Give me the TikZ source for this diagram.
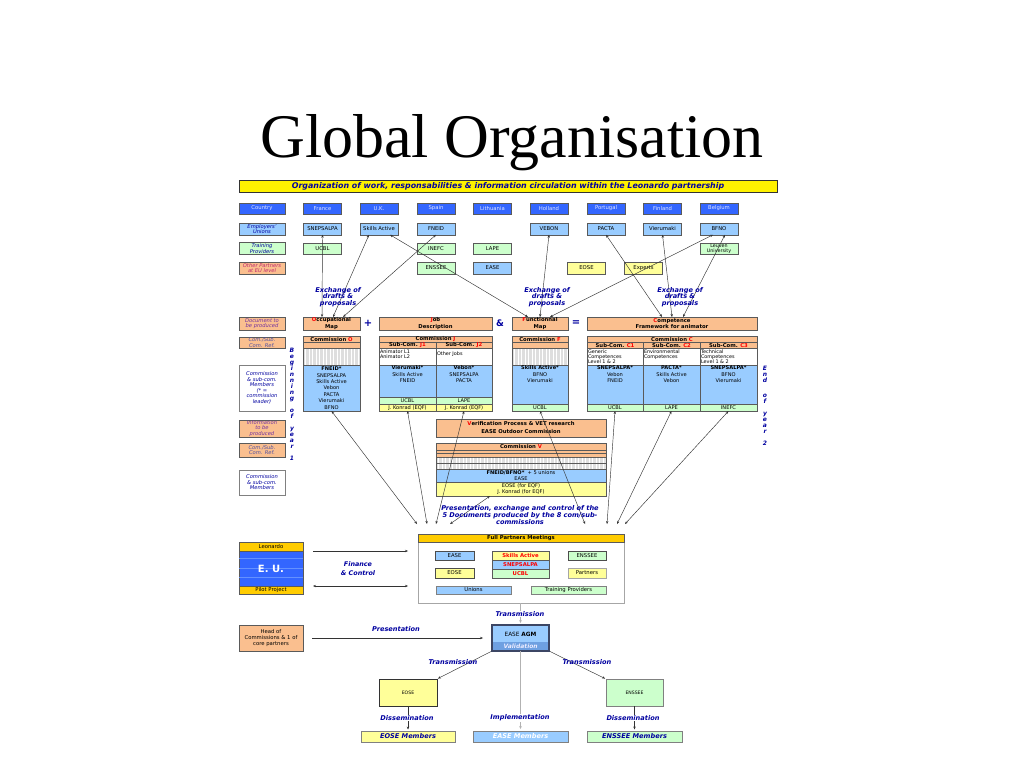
\documentclass[tikz,border=0pt]{standalone}
\usepackage{fontspec}
\setmainfont{DejaVu Sans}
\newfontfamily\titlefont{Liberation Serif}
\usetikzlibrary{arrows.meta}
\definecolor{cblue}{RGB}{51,102,255}
\definecolor{lblue}{RGB}{153,204,255}
\definecolor{lgreen}{RGB}{204,255,204}
\definecolor{lyellow}{RGB}{255,255,153}
\definecolor{lorange}{RGB}{250,191,143}
\definecolor{gold}{RGB}{255,204,0}
\definecolor{navy}{RGB}{0,0,160}
\definecolor{rred}{RGB}{255,0,0}
\definecolor{edge}{RGB}{90,90,90}
\definecolor{labpur}{RGB}{112,48,160}
\definecolor{labpink}{RGB}{190,40,110}
\definecolor{labgb}{RGB}{80,80,160}
\definecolor{ctext}{RGB}{225,230,255}
\definecolor{vblue}{RGB}{110,160,225}
\definecolor{agmedge}{RGB}{60,70,100}
\definecolor{eulines}{RGB}{100,145,255}
\newcommand\fsRow{\fontsize{5.3}{5.8}\selectfont}
\newcommand\fsLab{\fontsize{5.2}{5.5}\selectfont\itshape}
\newcommand\fsTab{\fontsize{5.1}{6.4}\selectfont}
\newcommand\fsWhite{\fontsize{4.9}{5.4}\selectfont}
\newcommand\fsHead{\fontsize{5.3}{6.2}\selectfont\bfseries}
\newcommand\fsNote{\fontsize{6.6}{6.6}\selectfont\bfseries\itshape}
\begin{document}
\begin{tikzpicture}[x=1pt,y=-1pt,
  cell/.style={draw=edge, line width=0.4pt, inner sep=0pt, outer sep=0pt, align=center},
  rowbox/.style={cell, minimum width=38pt, minimum height=11.5pt, font=\fsRow},
  labbox/.style={cell, minimum width=46pt, minimum height=12pt, font=\fsLab, text=navy},
  blk/.style={cell, anchor=north west, font=\fsTab},
  txt/.style={inner sep=0pt, outer sep=0pt, font=\fsTab, align=center},
  wtxt/.style={inner sep=0pt, outer sep=0pt, font=\fsWhite, align=left, anchor=north west},
  note/.style={font=\fsNote, text=navy, align=center, inner sep=0.5pt},
  link/.style={draw=black!80, line width=0.45pt, {Stealth[length=3pt,width=2.4pt]}-{Stealth[length=3pt,width=2.4pt]}},
  link1/.style={draw=black!80, line width=0.45pt, -{Stealth[length=3pt,width=2.4pt]}},
  glink/.style={draw=gray!60, line width=0.9pt, -{Stealth[length=3pt,width=2.6pt]}, shorten >=2pt}
]
\useasboundingbox (0,0) rectangle (1024,768);
\fill[white] (0,0) rectangle (1024,768);

% title
\node[font=\titlefont\fontsize{62}{70}\selectfont, anchor=base, inner sep=0] (title) at (512,157) {Global Organisation};

% header bar
\node[cell, draw=black!80, fill=yellow, minimum width=538pt, minimum height=12pt,
  font=\fontsize{7.9}{8}\selectfont\bfseries\itshape, text=navy] (hdr) at (508,186)
  {Organization of work, responsabilities \& information circulation within the Leonardo partnership};

% row 1: countries
\node[rowbox, fill=cblue, text=ctext, minimum width=46pt] (rcountry) at (262,208.5) {Country};
\node[rowbox, fill=cblue, text=ctext] (fr) at (322.5,208.5) {France};
\node[rowbox, fill=cblue, text=ctext] (uk) at (379,208.5) {U.K.};
\node[rowbox, fill=cblue, text=ctext] (es) at (436,208.5) {Spain};
\node[rowbox, fill=cblue, text=ctext] (lt) at (492.5,208.5) {Lithuania};
\node[rowbox, fill=cblue, text=ctext] (nl) at (549,208.5) {Holland};
\node[rowbox, fill=cblue, text=ctext] (pt) at (606,208.5) {Portugal};
\node[rowbox, fill=cblue, text=ctext] (fi) at (662.5,208.5) {Finland};
\node[rowbox, fill=cblue, text=ctext] (be) at (719,208.5) {Belgium};

% row 2: employers' unions
\node[labbox, fill=lblue] (lemp) at (262,229) {Employers'\\Unions};
\node[rowbox, fill=lblue] (snep) at (322.5,229) {SNEPSALPA};
\node[rowbox, fill=lblue] (skills) at (379,229) {Skills Active};
\node[rowbox, fill=lblue] (fneid) at (436,229) {FNEID};
\node[rowbox, fill=lblue] (vebon) at (549,229) {VEBON};
\node[rowbox, fill=lblue] (pacta) at (606,229) {PACTA};
\node[rowbox, fill=lblue] (vier) at (662.5,229) {Vierumaki};
\node[rowbox, fill=lblue] (bfno) at (719,229) {BFNO};

% row 3: training providers
\node[labbox, fill=lgreen] (ltrain) at (262,248.5) {Training\\Providers};
\node[rowbox, fill=lgreen] (ucbl) at (322.5,248.5) {UCBL};
\node[rowbox, fill=lgreen] (inefc) at (436,248.5) {INEFC};
\node[rowbox, fill=lgreen] (lape) at (492.5,248.5) {LAPE};
\node[rowbox, fill=lgreen, font=\fontsize{4.8}{5}\selectfont] (leuven) at (719,248.5) {Leuven\\University};

% row 4: other partners
\node[labbox, fill=lorange, text=labpink] (lother) at (262,268) {Other Partners\\at EU level};
\node[rowbox, fill=lgreen] (enssee) at (436,268) {ENSSEE};
\node[rowbox, fill=lblue] (ease) at (492.5,268) {EASE};
\node[rowbox, fill=lyellow] (eose) at (586.5,268) {EOSE};
\node[rowbox, fill=lyellow] (experts) at (643.5,268) {Experts};

% document row
\node[labbox, fill=lorange, text=labpur, minimum height=13pt] (ldoc) at (262,323.5) {Document to\\be produced};
\node[cell, fill=lorange, minimum width=57pt, minimum height=13pt, font=\fsHead] (occ) at (331.5,323.5) {\textcolor{rred}{O}ccupational\\Map};
\node[inner sep=0, font=\fontsize{10}{10}\selectfont\bfseries, text=navy] (plus) at (368,323.5) {+};
\node[cell, fill=lorange, minimum width=113pt, minimum height=13pt, font=\fsHead] (job) at (435.5,323.5) {\textcolor{rred}{J}ob\\Description};
\node[inner sep=0, font=\fontsize{9}{9}\selectfont\bfseries, text=navy] (amp) at (500,323.5) {\&};
\node[cell, fill=lorange, minimum width=56pt, minimum height=13pt, font=\fsHead] (fun) at (540,323.5) {\textcolor{rred}{F}unctionnal\\Map};
\node[inner sep=0, font=\fontsize{10}{10}\selectfont\bfseries, text=navy] (eq) at (576,323.5) {=};
\node[cell, fill=lorange, minimum width=170pt, minimum height=13pt, font=\fsHead] (comp) at (672,323.5) {\textcolor{rred}{C}ompetence\\Framework for animator};

% left labels (commission area)
\node[labbox, fill=lorange, text=labgb, minimum height=11pt] (lref) at (262,342.5) {Com./Sub.\\Com. Ref.};
\node[labbox, fill=white, draw=gray, minimum height=46pt] (lmem) at (262,388) {Commission\\\& sub-com.\\Members\\(* =\\commission\\leader)};
\node[labbox, fill=lorange, text=labpur, minimum height=17pt] (linfo) at (262,428.5) {Information\\to be\\produced};
\node[labbox, fill=lorange, text=labgb, minimum height=14pt] (lref2) at (262,450) {Com./Sub.\\Com. Ref.};
\node[labbox, fill=white, draw=gray, minimum height=25pt] (lmem2) at (262,482.5) {Commission\\\& sub-com.\\Members};

% vertical texts
\node[inner sep=0, font=\fontsize{6}{6}\selectfont\bfseries\itshape, text=navy, align=center, anchor=north] (begy) at (292,347.8)
  {B\\e\\g\\i\\n\\n\\i\\n\\g\\[6pt]o\\f\\[6pt]y\\e\\a\\r\\[6pt]1};
\node[inner sep=0, font=\fontsize{6}{6}\selectfont\bfseries\itshape, text=navy, align=center, anchor=north] (endy) at (765,365.8)
  {E\\n\\d\\[9pt]o\\f\\[6pt]y\\e\\a\\r\\[6pt]2};

% ---- Table O
\node[blk, fill=lorange, minimum width=57pt, minimum height=6.5pt, font=\fsHead] (oh) at (303,336) {Commission \textcolor{rred}{O}};
\node[blk, fill=lorange, minimum width=57pt, minimum height=6pt] (o2) at (303,342.5) {};
\node[blk, fill=black!13, minimum width=57pt, minimum height=16.5pt] (o3) at (303,348.5) {};
\foreach \x in {305.5,309,...,358} \draw[white, line width=1pt] (\x,349) -- (\x,364.5);
\node[blk, fill=lblue, minimum width=57pt, minimum height=46pt] (obot) at (303,365) {\textbf{FNEID*}\\SNEPSALPA\\Skills Active\\Vebon\\PACTA\\Vierumaki\\BFNO};

% ---- Table J
\node[blk, fill=lorange, minimum width=113pt, minimum height=6.5pt, font=\fsHead] (jh) at (379,336) {Commission \textcolor{rred}{J}};
\node[blk, fill=lorange, minimum width=57pt, minimum height=6pt, font=\fsHead] (j1s) at (379,342.5) {Sub-Com. \textcolor{rred}{J1}};
\node[blk, fill=lorange, minimum width=56pt, minimum height=6pt, font=\fsHead] (j2s) at (436,342.5) {Sub-Com. \textcolor{rred}{J2}};
\node[blk, fill=white, minimum width=57pt, minimum height=16.5pt] (j1w) at (379,348.5) {};
\node[blk, fill=white, minimum width=56pt, minimum height=16.5pt] (j2w) at (436,348.5) {};
\node[wtxt] (j1wt) at (380,349.3) {Animator L1\\Animator L2};
\node[wtxt] (j2wt) at (437,352) {Other Jobs};
\node[blk, fill=lblue, minimum width=57pt, minimum height=32.5pt] (j1b) at (379,365) {};
\node[blk, fill=lblue, minimum width=56pt, minimum height=32.5pt] (j2b) at (436,365) {};
\node[txt, anchor=north] (j1bt) at (407.5,365.9) {\textbf{Vierumaki*}\\Skills Active\\FNEID};
\node[txt, anchor=north] (j2bt) at (464,365.9) {\textbf{Vebon*}\\SNEPSALPA\\PACTA};
\node[blk, fill=lgreen, minimum width=57pt, minimum height=6.7pt] (j1g) at (379,397.5) {UCBL};
\node[blk, fill=lgreen, minimum width=56pt, minimum height=6.7pt] (j2g) at (436,397.5) {LAPE};
\node[blk, fill=lyellow, minimum width=57pt, minimum height=6.8pt] (j1y) at (379,404.2) {J. Konrad (EQF)};
\node[blk, fill=lyellow, minimum width=56pt, minimum height=6.8pt] (j2y) at (436,404.2) {J. Konrad (EQF)};

% ---- Table F
\node[blk, fill=lorange, minimum width=56pt, minimum height=6.5pt, font=\fsHead] (fh) at (512,336) {Commission \textcolor{rred}{F}};
\node[blk, fill=lorange, minimum width=56pt, minimum height=6pt] (f2) at (512,342.5) {};
\node[blk, fill=black!13, minimum width=56pt, minimum height=16.5pt] (f3) at (512,348.5) {};
\foreach \x in {514.5,518,...,567} \draw[white, line width=1pt] (\x,349) -- (\x,364.5);
\node[blk, fill=lblue, minimum width=56pt, minimum height=39.2pt] (fb) at (512,365) {};
\node[txt, anchor=north] (fbt) at (540,365.9) {\textbf{Skills Active*}\\BFNO\\Vierumaki};
\node[blk, fill=lgreen, minimum width=56pt, minimum height=6.8pt] (fg) at (512,404.2) {UCBL};

% ---- Table C
\node[blk, fill=lorange, minimum width=170pt, minimum height=6.5pt, font=\fsHead] (ch) at (587,336) {Commission \textcolor{rred}{C}};
\node[blk, fill=lorange, minimum width=56pt, minimum height=6pt, font=\fsHead] (c1s) at (587,342.5) {Sub-Com. \textcolor{rred}{C1}};
\node[blk, fill=lorange, minimum width=57pt, minimum height=6pt, font=\fsHead] (c2s) at (643,342.5) {Sub-Com. \textcolor{rred}{C2}};
\node[blk, fill=lorange, minimum width=57pt, minimum height=6pt, font=\fsHead] (c3s) at (700,342.5) {Sub-Com. \textcolor{rred}{C3}};
\node[blk, fill=white, minimum width=56pt, minimum height=16.5pt] (c1w) at (587,348.5) {};
\node[blk, fill=white, minimum width=57pt, minimum height=16.5pt] (c2w) at (643,348.5) {};
\node[blk, fill=white, minimum width=57pt, minimum height=16.5pt] (c3w) at (700,348.5) {};
\node[wtxt] (c1wt) at (588,349.3) {Generic\\Competences\\Level 1 \& 2};
\node[wtxt] (c2wt) at (644,349.3) {Environmental\\Competences};
\node[wtxt] (c3wt) at (701,349.3) {Technical\\Competences\\Level 1 \& 2};
\node[blk, fill=lblue, minimum width=56pt, minimum height=39.2pt] (c1b) at (587,365) {};
\node[blk, fill=lblue, minimum width=57pt, minimum height=39.2pt] (c2b) at (643,365) {};
\node[blk, fill=lblue, minimum width=57pt, minimum height=39.2pt] (c3b) at (700,365) {};
\node[txt, anchor=north] (c1bt) at (615,365.9) {\textbf{SNEPSALPA*}\\Vebon\\FNEID};
\node[txt, anchor=north] (c2bt) at (671.5,365.9) {\textbf{PACTA*}\\Skills Active\\Vebon};
\node[txt, anchor=north] (c3bt) at (728.5,365.9) {\textbf{SNEPSALPA*}\\BFNO\\Vierumaki};
\node[blk, fill=lgreen, minimum width=56pt, minimum height=6.8pt] (c1g) at (587,404.2) {UCBL};
\node[blk, fill=lgreen, minimum width=57pt, minimum height=6.8pt] (c2g) at (643,404.2) {LAPE};
\node[blk, fill=lgreen, minimum width=57pt, minimum height=6.8pt] (c3g) at (700,404.2) {INEFC};

% ---- Verification + Commission V
\node[blk, fill=lorange, minimum width=170pt, minimum height=18pt, font=\fsHead] (ver) at (436,419)
  {\textcolor{rred}{V}erification Process \& VET research\\[1.8pt]EASE Outdoor Commission};
\node[blk, fill=lorange, minimum width=170pt, minimum height=7pt, font=\fsHead] (vh) at (436,443) {Commission \textcolor{rred}{V}};
\node[blk, fill=lorange, minimum width=170pt, minimum height=7pt] (v2) at (436,450) {};
\draw[edge, line width=0.3pt] (436,453.5) -- (606,453.5);
\node[blk, fill=black!12, minimum width=170pt, minimum height=12pt] (v3) at (436,457) {};
\foreach \x in {438.5,442,...,605} \draw[white, line width=1pt] (\x,457.5) -- (\x,468.5);
\draw[edge, line width=0.3pt] (436,463) -- (606,463);
\node[blk, fill=lblue, minimum width=170pt, minimum height=13.5pt, font=\fontsize{5.1}{6.6}\selectfont] (vb) at (436,469) {\textbf{FNEID/BFNO*}~ + 5 unions\\EASE};
\node[blk, fill=lyellow, minimum width=170pt, minimum height=13.5pt, font=\fontsize{5.1}{6.6}\selectfont] (vy) at (436,482.5) {EOSE (for EQF)\\J. Konrad (for EQF)};

% ---- Full partners meetings
\node[cell, draw=gray!70, fill=white, minimum width=206pt, minimum height=69pt, anchor=north west, line width=0.7pt] (fpm) at (418,534) {};
\node[blk, fill=gold, minimum width=206pt, minimum height=8pt, font=\fsHead] (fph) at (418,534) {Full Partners Meetings};
\node[blk, fill=lblue, draw=black!70, line width=0.9pt, minimum width=39pt, minimum height=9pt, font=\fsRow] (fease) at (435,551) {EASE};
\node[blk, fill=lyellow, minimum width=57pt, minimum height=9pt, font=\fsHead, text=rred] (fsk) at (492,551) {Skills Active};
\node[blk, fill=lblue, minimum width=57pt, minimum height=9pt, font=\fsHead, text=rred] (fsn) at (492,560) {SNEPSALPA};
\node[blk, fill=lgreen, minimum width=57pt, minimum height=9pt, font=\fsHead, text=rred] (fuc) at (492,569) {UCBL};
\node[blk, fill=lgreen, draw=black!70, line width=0.9pt, minimum width=38pt, minimum height=9pt, font=\fsRow] (fens) at (568,551) {ENSSEE};
\node[blk, fill=lyellow, draw=black!70, line width=0.9pt, minimum width=39pt, minimum height=10pt, font=\fsRow] (feo) at (435,568) {EOSE};
\node[blk, fill=lyellow, draw=gray!70, minimum width=38pt, minimum height=10pt, font=\fsRow] (fpa) at (568,568) {Partners};
\node[blk, fill=lblue, draw=gray, minimum width=75pt, minimum height=8pt, font=\fsRow] (funi) at (436,586) {Unions};
\node[blk, fill=lgreen, draw=gray, minimum width=75pt, minimum height=8pt, font=\fsRow] (ftp) at (531,586) {Training Providers};

% ---- EU block
\node[blk, fill=gold, minimum width=64pt, minimum height=9pt, font=\fsRow] (leo) at (239,542) {Leonardo};
\node[blk, fill=cblue, minimum width=64pt, minimum height=35pt] (eu) at (239,551) {};
\foreach \yy in {558,568,577} \draw[eulines, line width=0.5pt] (239.3,\yy) -- (302.7,\yy);
\node[inner sep=0, font=\fontsize{10}{10}\selectfont\bfseries, text=white] (eut) at (271,568.5) {E. U.};
\node[blk, fill=gold, minimum width=64pt, minimum height=8pt, font=\fsRow] (pilot) at (239,586) {Pilot Project};

% ---- bottom part
\node[blk, fill=lorange, minimum width=64pt, minimum height=26pt, font=\fsRow] (head) at (239,625) {Head of\\Commissions \& 1 of\\core partners};
\node[blk, fill=lblue, draw=agmedge, line width=1.2pt, minimum width=57pt, minimum height=26pt] (agm) at (492,625) {};
\node[anchor=north west, fill=vblue, minimum width=55.8pt, minimum height=9pt, inner sep=0, font=\fontsize{6}{6}\selectfont\bfseries\itshape, text=white!92!blue] (agmv) at (492.6,641.5) {Validation};
\node[inner sep=0, font=\fontsize{5.8}{6}\selectfont] (agmt) at (520.5,634) {EASE \textbf{AGM}};
\draw[agmedge, line width=1.2pt] (agm.north west) rectangle (agm.south east);
\node[blk, fill=lyellow, draw=black!80, line width=0.8pt, minimum width=58pt, minimum height=27pt, font=\fontsize{4.6}{5}\selectfont] (eoseb) at (379,679) {EOSE};
\node[blk, fill=lgreen, draw=gray, line width=0.8pt, minimum width=57pt, minimum height=27pt, font=\fontsize{4.6}{5}\selectfont] (ensb) at (606,679) {ENSSEE};
\node[blk, fill=lyellow, draw=gray, minimum width=94pt, minimum height=11pt, font=\fsNote, text=navy] (eosem) at (361,731) {EOSE Members};
\node[blk, fill=lblue, draw=gray, minimum width=95pt, minimum height=11pt, font=\fsNote, text=white] (easem) at (473,731) {EASE Members};
\node[blk, fill=lgreen, draw=gray, minimum width=95pt, minimum height=11pt, font=\fsNote, text=navy] (ensm) at (587,731) {ENSSEE Members};

% ---- connectors top
\draw[link] (snep.south) -- ([xshift=-9.5pt]occ.north);
\draw[link] ([xshift=-10pt]skills.south) -- ([xshift=1.5pt]occ.north);
\draw[link] (fneid.south) -- ([xshift=11.5pt]occ.north);
\draw[link] ([xshift=11pt]skills.south) -- ([xshift=-12pt]fun.north);
\draw[link] (vebon.south) -- (fun.north);
\draw[link] ([xshift=-6pt]bfno.south) -- ([xshift=10pt]fun.north);
\draw[link] (pacta.south) -- ([xshift=-10pt]comp.north);
\draw[link] (vier.south) -- (comp.north);
\draw[link] ([xshift=6pt]bfno.south) -- ([xshift=11pt]comp.north);

% ---- connectors tables -> meetings
\coordinate (q1) at (417,524);
\coordinate (q2) at (427,524);
\coordinate (q3) at (436,524);
\coordinate (q4) at (450,524);
\coordinate (q5) at (585,524);
\coordinate (q6) at (607,524);
\coordinate (q7) at (617,524);
\coordinate (q8) at (625,524);
\draw[link] (obot.south) -- (q1);
\draw[link] (j1y.south) -- (q2);
\draw[link] (j2y.south) -- (q3);
\draw[link] ([xshift=-31pt]vy.south) -- (q4);
\draw[link] (fg.south) -- (q5);
\draw[link] (c1g.south) -- (q6);
\draw[link] (c2g.south) -- (q7);
\draw[link] (c3g.south) -- (q8);

% ---- EU arrows
\draw[link1, shorten <=10pt, shorten >=10pt] (eu.north east) -- (eu.north east -| fpm.west);
\draw[link, shorten <=10pt, shorten >=10pt] (eu.south east) -- (eu.south east -| fpm.west);

% ---- bottom connectors
\draw[glink] (agm.north |- fpm.south) -- (agm.north);
\draw[link1, shorten <=9pt, shorten >=9pt] (head.east) -- (agm.west);
\draw[link1, shorten <=1pt, shorten >=1pt] (agm.south west) -- (eoseb.north east);
\draw[link1, shorten <=1pt, shorten >=1pt] (agm.south east) -- (ensb.north west);
\draw[glink] (agm.south) -- (easem.north);
\draw[link1, shorten >=1.5pt] (eoseb.south) -- (eosem.north);
\draw[link1, shorten >=1.5pt] (ensb.south) -- (ensm.north);

% ---- labels
\node[note] (ex1) at (338,297) {Exchange of\\drafts \&\\proposals};
\node[note] (ex2) at (547,297) {Exchange of\\drafts \&\\proposals};
\node[note] (ex3) at (680,297) {Exchange of\\drafts \&\\proposals};
\node[note, font=\fontsize{6.6}{6.3}\selectfont\bfseries\itshape] (pres) at (520,515) {Presentation, exchange and control of the\\5 Documents produced by the 8 com/sub-\\commissions};
\node[note, font=\fontsize{6.4}{8.8}\selectfont\bfseries\itshape] (fin) at (358,568.5) {Finance\\\& Control};
\node[note, fill=white] (tr0) at (520,614) {Transmission};
\node[note] (lpres) at (396,629) {Presentation};
\node[note] (ltr1) at (453,662) {Transmission};
\node[note] (ltr2) at (587,662) {Transmission};
\node[note, fill=white] (ldis1) at (407,718) {Dissemination};
\node[note, fill=white] (limp) at (520,718) {Implementation};
\node[note, fill=white] (ldis2) at (633,718) {Dissemination};
\end{tikzpicture}
\end{document}
